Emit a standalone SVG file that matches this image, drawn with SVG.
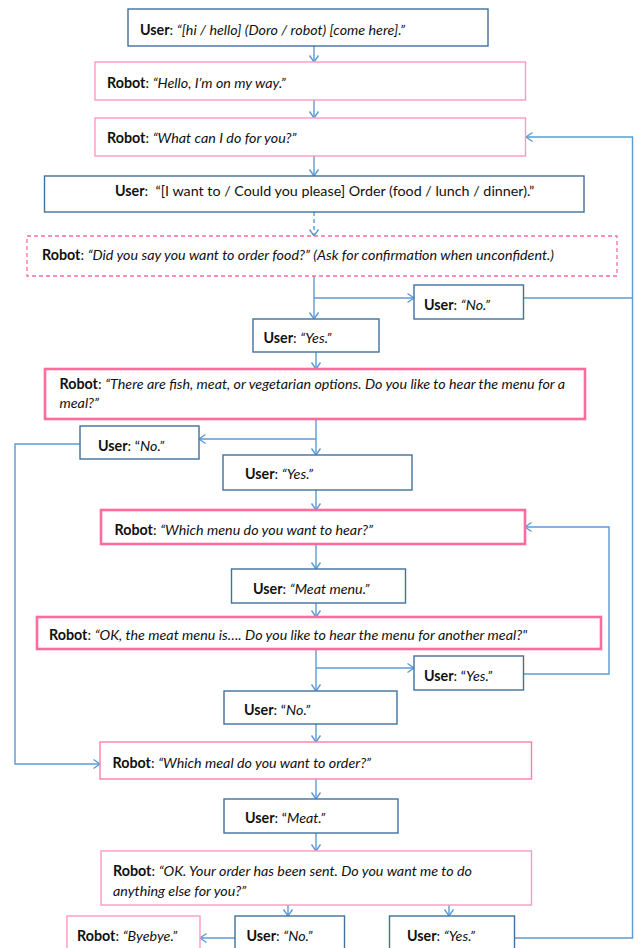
<svg xmlns="http://www.w3.org/2000/svg" width="635" height="948" viewBox="0 0 635 948">
<defs>
<style>
.u{fill:#fff;stroke:#41719C;stroke-width:1.4}
.r{fill:#fff;stroke:#FF99C2;stroke-width:1.4}
.rm{fill:#fff;stroke:#FF7DAA;stroke-width:1.4}
.rt{fill:#fff;stroke:#FF6B9B;stroke-width:2.6}
.rd{fill:#fff;stroke:#FF6B9B;stroke-width:1.3;stroke-dasharray:4 3}
text{font-family:Lato,"Open Sans","Liberation Sans",sans-serif;font-size:14.3px;fill:#111}
.b{font-weight:bold}
.i{font-style:italic}
.c{fill:none;stroke:#5B9BD5;stroke-width:1.4}
.ca{fill:none;stroke:#5B9BD5;stroke-width:1.4;marker-end:url(#arr)}
</style>
<marker id="arr" viewBox="0 0 10 10" refX="9.5" refY="5" markerWidth="10" markerHeight="10" markerUnits="userSpaceOnUse" orient="auto" overflow="visible">
<path d="M3,0.5 L9.5,5 L3,9.5" fill="none" stroke="#5B9BD5" stroke-width="1.4"/>
</marker>
</defs>

<g id="connectors">
<path class="ca" d="M314,46 V62"/>
<path class="ca" d="M314,100 V118"/>
<path class="ca" d="M314,156 V176"/>
<path class="ca" d="M314,212 V236" stroke-dasharray="4 3"/>
<path class="ca" d="M314,276 V319"/>
<path class="ca" d="M314,298 H414"/>
<path class="c" d="M524,298 H632.5"/>
<path class="ca" d="M514.6,938 H632.5 V137 H526"/>
<path class="ca" d="M316,352 V369"/>
<path class="ca" d="M316,419 V455"/>
<path class="ca" d="M316,439 H199"/>
<path class="ca" d="M80,444 H15 V764 H100"/>
<path class="ca" d="M316,490 V510"/>
<path class="ca" d="M316,544 V569"/>
<path class="ca" d="M316,603 V617"/>
<path class="ca" d="M316,649 V691"/>
<path class="ca" d="M316,668 H414"/>
<path class="ca" d="M523.5,674 H609 V527 H525"/>
<path class="ca" d="M316,724 V742"/>
<path class="ca" d="M316,779 V799"/>
<path class="ca" d="M316,833 V851"/>
<path class="ca" d="M288,905 V916"/>
<path class="ca" d="M449,905 V916"/>
<path class="ca" d="M235,938 H200"/>
</g>

<g id="n1"><rect class="u" x="128" y="9" width="360" height="37"/>
<text x="140" y="35"><tspan class="b">User</tspan>: <tspan class="i">“[hi / hello] (Doro / robot) [come here].”</tspan></text></g>

<g id="n2"><rect class="r" x="95" y="62" width="430.5" height="38"/>
<text x="107" y="88"><tspan class="b">Robot</tspan>: <tspan class="i">“Hello, I’m on my way.”</tspan></text></g>

<g id="n3"><rect class="r" x="95" y="118" width="430.5" height="38"/>
<text x="107" y="143"><tspan class="b">Robot</tspan>: <tspan class="i">“What can I do for you?”</tspan></text></g>

<g id="n4"><rect class="u" x="44.5" y="176" width="539.5" height="36"/>
<text x="115" y="196" xml:space="preserve"><tspan class="b">User</tspan>:  “[I want to / Could you please] Order (food / lunch / dinner).”</text></g>

<g id="n5"><rect class="rd" x="27" y="236" width="590" height="40"/>
<text x="42" y="260"><tspan class="b">Robot</tspan>: <tspan class="i">“Did you say you want to order food?” (Ask for confirmation when unconfident.)</tspan></text></g>

<g id="n6"><rect class="u" x="414" y="285" width="109.5" height="34"/>
<text x="424" y="310"><tspan class="b">User</tspan>: <tspan class="i">“No.”</tspan></text></g>

<g id="n7"><rect class="u" x="253" y="319" width="126" height="33"/>
<text x="263.5" y="343"><tspan class="b">User</tspan>: <tspan class="i">“Yes.”</tspan></text></g>

<g id="n8"><rect class="rt" x="45" y="369" width="540" height="50"/>
<text x="59.5" y="389"><tspan class="b">Robot</tspan>: <tspan class="i">“There are fish, meat, or vegetarian options. Do you like to hear the menu for a</tspan></text>
<text class="i" x="59.5" y="408">meal?”</text></g>

<g id="n9"><rect class="u" x="80" y="426" width="119" height="33"/>
<text x="98" y="451"><tspan class="b">User</tspan>: “<tspan class="i">No.”</tspan></text></g>

<g id="n10"><rect class="u" x="223" y="455" width="189" height="35"/>
<text x="245" y="479"><tspan class="b">User</tspan>: <tspan class="i">“Yes.”</tspan></text></g>

<g id="n11"><rect class="rt" x="101" y="510" width="424" height="34"/>
<text x="114.5" y="535"><tspan class="b">Robot</tspan>: <tspan class="i">“Which menu do you want to hear?”</tspan></text></g>

<g id="n12"><rect class="u" x="231.5" y="569" width="174" height="34"/>
<text x="253" y="594"><tspan class="b">User</tspan>: <tspan class="i">“Meat menu.”</tspan></text></g>

<g id="n13"><rect class="rt" x="37" y="617" width="564" height="32"/>
<text x="49" y="640"><tspan class="b">Robot</tspan>: <tspan class="i">“OK, the meat menu is…. Do you like to hear the menu for another meal?"</tspan></text></g>

<g id="n14"><rect class="u" x="414" y="656" width="109.5" height="34"/>
<text x="424" y="681"><tspan class="b">User</tspan>: “<tspan class="i">Yes.”</tspan></text></g>

<g id="n15"><rect class="u" x="224" y="691" width="173" height="33"/>
<text x="244" y="715"><tspan class="b">User</tspan>: “<tspan class="i">No.”</tspan></text></g>

<g id="n16"><rect class="rm" x="100" y="742" width="431.5" height="37"/>
<text x="112.5" y="768"><tspan class="b">Robot</tspan>: <tspan class="i">“Which meal do you want to order?”</tspan></text></g>

<g id="n17"><rect class="u" x="224" y="799" width="174" height="34"/>
<text x="245" y="823"><tspan class="b">User</tspan>: “<tspan class="i">Meat.”</tspan></text></g>

<g id="n18"><rect class="r" x="101" y="851" width="430.5" height="54"/>
<text x="113" y="876"><tspan class="b">Robot</tspan>: <tspan class="i">“OK. Your order has been sent. Do you want me to do</tspan></text>
<text class="i" x="113" y="896">anything else for you?”</text></g>

<g id="n19"><rect class="r" x="67" y="916" width="133" height="40"/>
<text x="77" y="941"><tspan class="b">Robot</tspan>: <tspan class="i">“Byebye.”</tspan></text></g>

<g id="n20"><rect class="u" x="235" y="916" width="109.5" height="40"/>
<text x="246.5" y="941"><tspan class="b">User</tspan>: <tspan class="i">“No.”</tspan></text></g>

<g id="n21"><rect class="u" x="389.5" y="916" width="125" height="40"/>
<text x="407" y="941"><tspan class="b">User</tspan>: <tspan class="i">“Yes.”</tspan></text></g>
</svg>
